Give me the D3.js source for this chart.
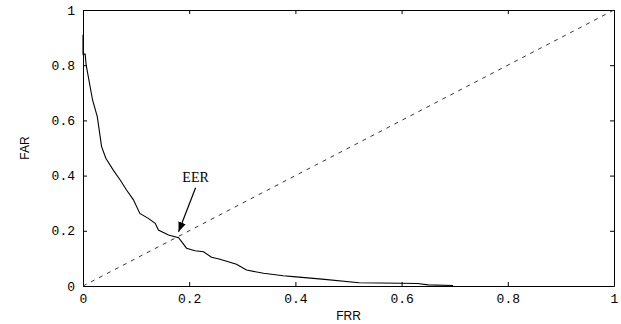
<!DOCTYPE html>
<html>
<head>
<meta charset="utf-8">
<script src="https://cdn.jsdelivr.net/npm/d3@7"></script>
<style>
  body { margin: 0; background: #fff; }
  .tick text { font-family: "Liberation Mono", "DejaVu Sans Mono", monospace; font-size: 13px; fill: #000; }
  .axisLabel { font-family: "Liberation Sans", Arial, sans-serif; font-size: 12px; fill: #000; }
</style>
</head>
<body>
<div id="chart"></div>
<script>
// Chart data: FRR (x) vs FAR (y)
var frr = [0, 0, 0.004, 0.006, 0.018, 0.027, 0.035, 0.043, 0.057, 0.07, 0.082, 0.095, 0.107,
           0.123, 0.136, 0.142, 0.161, 0.18, 0.195, 0.211, 0.227, 0.242, 0.258, 0.289, 0.308,
           0.34, 0.377, 0.396, 0.45, 0.52, 0.6, 0.63, 0.65, 0.697];
var far = [0.91, 0.84, 0.84, 0.80, 0.674, 0.613, 0.505, 0.463, 0.42, 0.384, 0.348, 0.312, 0.263,
           0.245, 0.227, 0.203, 0.185, 0.175, 0.137, 0.128, 0.124, 0.104, 0.097, 0.079, 0.058,
           0.046, 0.037, 0.034, 0.025, 0.012, 0.01, 0.009, 0.004, 0.002];
var diagX = [0, 1];
var diagY = [0, 1];
var tickVals = [0, 0.2, 0.4, 0.6, 0.8, 1];
var eer = { x: 0.18, y: 0.175, label: "EER" };

var svgWidth = 621;
var svgHeight = 324;
var margin = { top: 10, right: 7, bottom: 38, left: 83 };
var width = svgWidth - margin.left - margin.right;
var height = svgHeight - margin.top - margin.bottom;

var svg = d3.select("#chart")
  .append("svg")
  .attr("width", svgWidth)
  .attr("height", svgHeight);

var chartGroup = svg.append("g")
  .attr("transform", `translate(${margin.left}, ${margin.top})`);

var x = d3.scaleLinear().domain([0, 1]).range([0, width]);
var y = d3.scaleLinear().domain([0, 1]).range([height, 0]);

var fmt = function(d) { return d === 0 || d === 1 ? String(d) : d3.format(".1f")(d); };

// axes with inward ticks, MATLAB style
var bottomAxis = d3.axisBottom(x).tickValues(tickVals).tickSizeInner(-4).tickSizeOuter(0).tickPadding(8).tickFormat(fmt);
var leftAxis = d3.axisLeft(y).tickValues(tickVals).tickSizeInner(-4).tickSizeOuter(0).tickPadding(8).tickFormat(fmt);
var topAxis = d3.axisTop(x).tickValues(tickVals).tickSizeInner(-4).tickSizeOuter(0).tickFormat("");
var rightAxis = d3.axisRight(y).tickValues(tickVals).tickSizeInner(-4).tickSizeOuter(0).tickFormat("");

chartGroup.append("g").attr("transform", `translate(0, ${height})`).call(bottomAxis);
chartGroup.append("g").call(leftAxis);
chartGroup.append("g").call(topAxis);
chartGroup.append("g").attr("transform", `translate(${width}, 0)`).call(rightAxis);

chartGroup.selectAll(".domain").attr("stroke", "#000");
chartGroup.selectAll(".tick line").attr("stroke", "#000");

// dashed diagonal
var line = d3.line().x(d => x(d[0])).y(d => y(d[1]));
chartGroup.append("path")
  .datum(d3.zip(diagX, diagY))
  .attr("d", line)
  .attr("fill", "none")
  .attr("stroke", "#333")
  .attr("stroke-width", 1)
  .attr("stroke-dasharray", "4,5");

// FAR/FRR curve
chartGroup.append("path")
  .datum(d3.zip(frr, far))
  .attr("d", line)
  .attr("fill", "none")
  .attr("stroke", "#000")
  .attr("stroke-width", 1.1);

// EER annotation
svg.append("defs").append("marker")
  .attr("id", "arrow")
  .attr("viewBox", "0 0 10 10")
  .attr("refX", 10).attr("refY", 5)
  .attr("markerWidth", 8).attr("markerHeight", 8)
  .attr("orient", "auto-start-reverse")
  .append("path").attr("d", "M0,1 L10,5 L0,9 z").attr("fill", "#000");

chartGroup.append("line")
  .attr("x1", x(eer.x) + 17).attr("y1", y(eer.y) - 50)
  .attr("x2", x(eer.x)).attr("y2", y(eer.y) - 6)
  .attr("stroke", "#000")
  .attr("stroke-width", 1.2)
  .attr("marker-end", "url(#arrow)");

chartGroup.append("text")
  .attr("x", x(eer.x) + 17)
  .attr("y", y(eer.y) - 56)
  .attr("text-anchor", "middle")
  .style("font-family", "'Liberation Serif', 'Times New Roman', serif")
  .style("font-size", "14px")
  .text(eer.label);

// axis labels
chartGroup.append("text")
  .attr("class", "axisLabel")
  .attr("x", width / 2)
  .attr("y", height + 34)
  .attr("text-anchor", "middle")
  .text("FRR");

chartGroup.append("text")
  .attr("class", "axisLabel")
  .attr("transform", "rotate(-90)")
  .attr("x", -height / 2)
  .attr("y", -54)
  .attr("text-anchor", "middle")
  .text("FAR");
</script>
</body>
</html>
